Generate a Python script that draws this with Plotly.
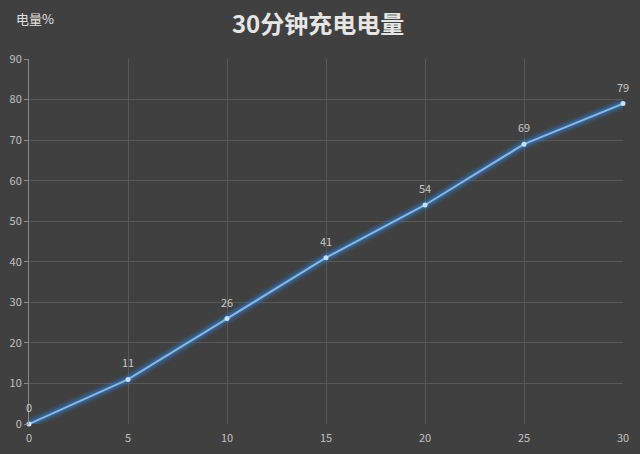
import plotly.graph_objects as go

minutes = [0, 5, 10, 15, 20, 25, 30]
charge = [0, 11, 26, 41, 54, 69, 79]
x_ticks = [0, 5, 10, 15, 20, 25, 30]
y_ticks = [0, 10, 20, 30, 40, 50, 60, 70, 80, 90]

fig = go.Figure()
# glow layers
for w, a in [(12, 0.12), (9, 0.2), (6, 0.35)]:
    fig.add_trace(go.Scatter(x=minutes, y=charge, mode="lines",
                             line=dict(color=f"rgba(50,120,200,{a})", width=w),
                             hoverinfo="skip", showlegend=False, cliponaxis=False))
fig.add_trace(go.Scatter(x=minutes, y=charge, mode="lines+markers",
                         line=dict(color="#88b8e4", width=2),
                         marker=dict(size=5, color="#c4e0ff"),
                         showlegend=False, cliponaxis=False))
for m, c in zip(minutes, charge):
    fig.add_annotation(x=m, y=c, text=str(c), showarrow=False, yshift=17,
                       font=dict(family="Noto Sans CJK SC", size=11, color="#c8c8c8"))

fig.update_layout(
    width=640, height=454,
    paper_bgcolor="#404040", plot_bgcolor="#404040",
    margin=dict(l=29, r=17, t=59, b=30),
    font=dict(family="Noto Sans CJK SC", color="#c0c0c0"),
    title=dict(text="<b>30分钟充电电量</b>", x=0.497, xanchor="center", y=0.945, yanchor="middle",
               font=dict(size=24, color="#e6e6e6", family="Noto Sans CJK SC")),
)
fig.add_annotation(text="电量%", xref="paper", yref="paper", x=-0.025, y=1.11, xanchor="left",
                   yanchor="middle", showarrow=False,
                   font=dict(size=13, color="#e0e0e0", family="Noto Sans CJK SC"))
fig.update_xaxes(range=[0, 30], tickvals=x_ticks, showgrid=True, gridcolor="#585858", gridwidth=1,
                 zeroline=False, showline=False, tickfont=dict(size=11, color="#c0c0c0"), ticks="",
                 ticklabelstandoff=6, automargin=False, fixedrange=True)
fig.update_yaxes(range=[0, 90], tickvals=y_ticks, showgrid=True, gridcolor="#585858", gridwidth=1,
                 zeroline=False, showline=True, linecolor="#8a8a8a", linewidth=1,
                 ticks="outside", ticklen=4, tickcolor="#8a8a8a",
                 tickfont=dict(size=11, color="#c0c0c0"), automargin=False, fixedrange=True)
fig.write_html("out.html", config={"displayModeBar": False},
               post_script="document.body.style.margin='0';document.body.style.background='#404040';")
